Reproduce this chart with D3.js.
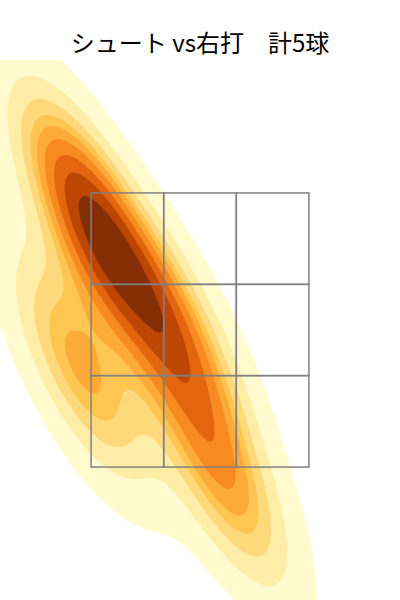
<!DOCTYPE html>
<html>
<head>
<meta charset="utf-8">
<script src="https://cdn.jsdelivr.net/npm/d3@7"></script>
<style>
  body { margin: 0; background: #fff; }
  svg { display: block; }
</style>
</head>
<body>
<div id="chart"></div>
<script>
// pitch locations (ft)
const pitchX = [-0.780, -0.572, -0.143, 0.143, -0.780];
const pitchZ = [3.470, 3.032, 2.462, 1.427, 2.222];

// strike zone split into 3x3
const zoneX = [-0.708, -0.236, 0.236, 0.708];
const zoneZ = [3.5, 2.833, 2.167, 1.5];

const titleText = "シュート vs右打\u3000計5球";

// YlOrBr colormap stops
const cmapStops = ["#ffffe5", "#fff7bc", "#fee391", "#fec44f", "#fe9929",
                   "#ec7014", "#cc4c02", "#993404", "#662506"];

const width = 400, height = 600;
const plot = {left: 0, top: 60, right: 400, bottom: 600};

const svg = d3.select("#chart").append("svg")
    .attr("width", width)
    .attr("height", height);

// scales
let x = d3.scaleLinear().domain([-1.3, 1.3]).range([plot.left, plot.right]);
let y = d3.scaleLinear().domain([0.53, 4.47]).range([plot.bottom, plot.top]);

svg.append("text")
    .attr("x", width / 2)
    .attr("y", 52)
    .attr("text-anchor", "middle")
    .style("font-family", "'Noto Sans CJK JP', sans-serif")
    .style("font-size", "24px")
    .text(titleText);

// gaussian kde, same rules as scipy (scott factor, full covariance)
function kdeGrid(xs, zs, gridsize, cut) {
    const n = xs.length;
    const mx = d3.mean(xs), mz = d3.mean(zs);
    let sxx = 0, szz = 0, sxz = 0;
    for (let i = 0; i < n; i++) {
        sxx += (xs[i] - mx) ** 2;
        szz += (zs[i] - mz) ** 2;
        sxz += (xs[i] - mx) * (zs[i] - mz);
    }
    sxx /= n - 1; szz /= n - 1; sxz /= n - 1;
    const f = Math.pow(n, -1 / 6);
    const a = sxx * f * f, b = sxz * f * f, c = szz * f * f;
    const det = a * c - b * b;
    const ia = c / det, ib = -b / det, ic = a / det;
    const norm = 1 / (n * 2 * Math.PI * Math.sqrt(det));

    const bwx = f * Math.sqrt(sxx), bwz = f * Math.sqrt(szz);
    const x0 = d3.min(xs) - cut * bwx, x1 = d3.max(xs) + cut * bwx;
    const z0 = d3.min(zs) - cut * bwz, z1 = d3.max(zs) + cut * bwz;
    const dx = (x1 - x0) / (gridsize - 1), dz = (z1 - z0) / (gridsize - 1);

    const values = new Float64Array(gridsize * gridsize);
    for (let j = 0; j < gridsize; j++) {
        const gz = z0 + j * dz;
        for (let i = 0; i < gridsize; i++) {
            const gx = x0 + i * dx;
            let s = 0;
            for (let k = 0; k < n; k++) {
                const u = gx - xs[k], v = gz - zs[k];
                s += Math.exp(-0.5 * (ia * u * u + 2 * ib * u * v + ic * v * v));
            }
            values[j * gridsize + i] = s * norm;
        }
    }
    return {values, x0, z0, dx, dz, n: gridsize};
}

// seaborn iso-proportion levels
function quantileToLevel(values, props) {
    const sorted = Array.from(values).sort((p, q) => q - p);
    const total = d3.sum(sorted);
    const cum = [];
    let run = 0;
    for (const v of sorted) { run += v; cum.push(run / total); }
    return props.map(p => {
        const idx = d3.bisectLeft(cum, 1 - p);
        return sorted[Math.min(idx, sorted.length - 1)];
    });
}

const grid = kdeGrid(pitchX, pitchZ, 200, 3);
const props = d3.range(10).map(i => 0.05 + i * (0.95 / 9));
const levels = quantileToLevel(grid.values, props);

// colours like matplotlib contourf: midpoints normalised over the levels
const cmap = d3.scaleLinear()
    .domain(d3.range(9).map(i => i / 8))
    .range(cmapStops)
    .interpolate(d3.interpolateRgb);
const lo = levels[0], hi = levels[levels.length - 1];
const bandColors = d3.range(9).map(i => cmap(((levels[i] + levels[i + 1]) / 2 - lo) / (hi - lo)));

const contours = d3.contours()
    .size([grid.n, grid.n])
    .thresholds(levels.slice(0, 9))(grid.values);

const toScreen = d3.geoTransform({
    point: function(px, py) {
        const gx = grid.x0 + (px - 0.5) * grid.dx;
        const gz = grid.z0 + (py - 0.5) * grid.dz;
        this.stream.point(x(gx), y(gz));
    }
});

svg.append("clipPath").attr("id", "plotclip")
    .append("rect")
    .attr("x", plot.left).attr("y", plot.top)
    .attr("width", plot.right - plot.left)
    .attr("height", plot.bottom - plot.top);

svg.append("g")
    .attr("clip-path", "url(#plotclip)")
    .selectAll("path")
    .data(contours)
    .enter().append("path")
    .attr("d", d3.geoPath(toScreen))
    .attr("fill", (d, i) => bandColors[i])
    .attr("stroke", "none");

// strike zone 3x3
const cells = [];
for (let r = 0; r < 3; r++) {
    for (let c = 0; c < 3; c++) {
        cells.push({x0: zoneX[c], x1: zoneX[c + 1], z0: zoneZ[r], z1: zoneZ[r + 1]});
    }
}
svg.append("g").selectAll("rect")
    .data(cells).enter().append("rect")
    .attr("x", d => x(d.x0))
    .attr("y", d => y(d.z0))
    .attr("width", d => x(d.x1) - x(d.x0))
    .attr("height", d => y(d.z1) - y(d.z0))
    .attr("fill", "none")
    .attr("stroke", "#808080")
    .attr("stroke-width", 1.5);
</script>
</body>
</html>
